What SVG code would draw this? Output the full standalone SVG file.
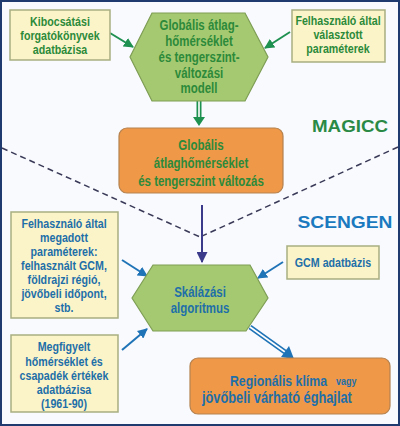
<svg xmlns="http://www.w3.org/2000/svg" width="400" height="426" viewBox="0 0 400 426">
<style>
.t{font-family:"Liberation Sans",Arial,sans-serif;font-weight:bold;text-anchor:middle}
.s{text-anchor:start}
.g{fill:#2C8A3A}
.b{fill:#1E6FA8}
.yb{fill:#FBF4C8;stroke:#A8AE80;stroke-width:1.5}
.hex{fill:#A5C971;stroke:#7E9E55;stroke-width:1.2}
.ob{fill:#EE9848;stroke:#B58250;stroke-width:1.2}
</style>
<defs>
<marker id="ag" viewBox="0 0 10 10" refX="9" refY="5" markerWidth="10" markerHeight="10" markerUnits="userSpaceOnUse" orient="auto"><path d="M0,0 L10,5 L0,10 z" fill="#1E9050"/></marker>
<marker id="ab" viewBox="0 0 10 10" refX="9" refY="5" markerWidth="10" markerHeight="10" markerUnits="userSpaceOnUse" orient="auto"><path d="M0,0 L10,5 L0,10 z" fill="#1F73B7"/></marker>
<marker id="an" viewBox="0 0 10 10" refX="9" refY="5" markerWidth="11" markerHeight="11" markerUnits="userSpaceOnUse" orient="auto"><path d="M0,0 L10,5 L0,10 z" fill="#3B3A8A"/></marker>
</defs>
<rect x="1" y="1" width="398" height="424" fill="#F8FAFD" stroke="#1F3A6E" stroke-width="2"/>

<g id="connectors">
<line x1="2" y1="148" x2="200" y2="237" stroke="#3A3A58" stroke-width="1.5" stroke-dasharray="6 4"/>
<line x1="398" y1="147" x2="200" y2="237" stroke="#3A3A58" stroke-width="1.5" stroke-dasharray="6 4"/>
<line x1="110" y1="33" x2="133" y2="47" stroke="#1E9050" stroke-width="2" marker-end="url(#ag)"/>
<line x1="290" y1="32" x2="265" y2="48" stroke="#1E9050" stroke-width="2" marker-end="url(#ag)"/>
<line x1="199" y1="101" x2="199" y2="119" stroke="#1E9050" stroke-width="5"/>
<line x1="199" y1="101" x2="199" y2="119" stroke="#FFFFFF" stroke-width="1.6"/>
<path d="M193,117 L205,117 L199,126 z" fill="#1E9050"/>
<line x1="202" y1="205" x2="202" y2="262" stroke="#3B3A8A" stroke-width="2" marker-end="url(#an)"/>
<line x1="122" y1="260" x2="147" y2="276" stroke="#1F73B7" stroke-width="2" marker-end="url(#ab)"/>
<line x1="283" y1="262" x2="258" y2="278" stroke="#1F73B7" stroke-width="2" marker-end="url(#ab)"/>
<line x1="122" y1="350" x2="147" y2="329" stroke="#1F73B7" stroke-width="2" marker-end="url(#ab)"/>
<line x1="250" y1="327" x2="285" y2="352" stroke="#1F73B7" stroke-width="5"/>
<line x1="250" y1="327" x2="285" y2="352" stroke="#FFFFFF" stroke-width="1.6"/>
<path d="M281,357 L289,346 L294,359 z" fill="#1F73B7"/>
</g>

<g id="kibocsatasi">
<rect class="yb" x="10" y="10" width="100" height="50"/>
<g transform="translate(60 0) scale(0.82 1)">
<text class="t g" font-size="13" x="0" y="26">Kibocsátási</text>
<text class="t g" font-size="13" x="0" y="40.5">forgatókönyvek</text>
<text class="t g" font-size="13" x="0" y="54.5">adatbázisa</text>
</g>
</g>

<g id="felhasznalo-valasztott">
<rect class="yb" x="292" y="10" width="93" height="52"/>
<g transform="translate(338 0) scale(0.82 1)">
<text class="t g" font-size="13" x="0" y="25">Felhasználó által</text>
<text class="t g" font-size="13" x="0" y="39">választott</text>
<text class="t g" font-size="13" x="0" y="53">paraméterek</text>
</g>
</g>

<g id="modell">
<polygon class="hex" points="130,57 152,13 245,13 268,57 245,101 152,101"/>
<g transform="translate(199 0) scale(0.82 1)">
<text class="t g" font-size="14" x="0" y="30">Globális átlag-</text>
<text class="t g" font-size="14" x="0" y="46">hőmérséklet</text>
<text class="t g" font-size="14" x="0" y="62">és tengerszint-</text>
<text class="t g" font-size="14" x="0" y="78">változási</text>
<text class="t g" font-size="14" x="0" y="93">modell</text>
</g>
</g>

<g id="globalis-valtozas">
<rect class="ob" x="119" y="128" width="164" height="65" rx="8"/>
<g transform="translate(201 0) scale(0.82 1)">
<text class="t g" font-size="14" x="0" y="150">Globális</text>
<text class="t g" font-size="14" x="0" y="168">átlaghőmérséklet</text>
<text class="t g" font-size="14" x="0" y="186">és tengerszint változás</text>
</g>
</g>

<g id="magicc">
<text x="350" y="132" font-family="Liberation Sans,Arial,sans-serif" font-weight="bold" font-size="17" fill="#2A8A45" text-anchor="middle" textLength="76" lengthAdjust="spacingAndGlyphs">MAGICC</text>
</g>
<g id="scengen">
<text x="345" y="228" font-family="Liberation Sans,Arial,sans-serif" font-weight="bold" font-size="17" fill="#1A79BF" text-anchor="middle" textLength="95" lengthAdjust="spacingAndGlyphs">SCENGEN</text>
</g>

<g id="felhasznalo-megadott">
<rect class="yb" x="11" y="212" width="107" height="106"/>
<g transform="translate(64 0) scale(0.82 1)">
<text class="t b" font-size="13" x="0" y="228">Felhasználó által</text>
<text class="t b" font-size="13" x="0" y="242">megadott</text>
<text class="t b" font-size="13" x="0" y="256">paraméterek:</text>
<text class="t b" font-size="13" x="0" y="270">felhasznált GCM,</text>
<text class="t b" font-size="13" x="0" y="284">földrajzi régió,</text>
<text class="t b" font-size="13" x="0" y="298">jövőbeli időpont,</text>
<text class="t b" font-size="13" x="0" y="312">stb.</text>
</g>
</g>

<g id="skalazasi">
<polygon class="hex" points="132,298 153,265 250,265 268,298 246,331 153,331"/>
<g transform="translate(200 0) scale(0.82 1)">
<text class="t b" font-size="14" x="0" y="297">Skálázási</text>
<text class="t b" font-size="14" x="0" y="313">algoritmus</text>
</g>
</g>

<g id="gcm">
<rect class="yb" x="287" y="246" width="92" height="33"/>
<g transform="translate(333 0) scale(0.82 1)">
<text class="t b" font-size="13" x="0" y="267">GCM adatbázis</text>
</g>
</g>

<g id="megfigyelt">
<rect class="yb" x="11" y="335" width="107" height="77"/>
<g transform="translate(64 0) scale(0.82 1)">
<text class="t b" font-size="13" x="0" y="351">Megfigyelt</text>
<text class="t b" font-size="13" x="0" y="366">hőmérséklet és</text>
<text class="t b" font-size="13" x="0" y="380">csapadék értékek</text>
<text class="t b" font-size="13" x="0" y="394">adatbázisa</text>
<text class="t b" font-size="13" x="0" y="408">(1961-90)</text>
</g>
</g>

<g id="regionalis">
<rect class="ob" x="190" y="358" width="200" height="56" rx="8"/>
<g transform="translate(230 0) scale(0.82 1)">
<text class="t b s" font-size="15" x="0" y="386">Regionális klíma</text>
</g>
<g transform="translate(336 0) scale(0.82 1)">
<text class="t b s" font-size="11" x="0" y="385">vagy</text>
</g>
<g transform="translate(202 0) scale(0.82 1)">
<text class="t b s" font-size="15.6" x="0" y="403">jövőbeli várható éghajlat</text>
</g>
</g>
</svg>
